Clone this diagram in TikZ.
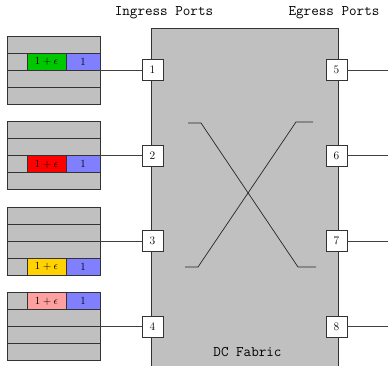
\documentclass[tikz,border=0pt]{standalone}
\usetikzlibrary{calc}

\definecolor{cellgray}{RGB}{192,192,192}
\definecolor{cellblue}{RGB}{128,128,255}
\definecolor{cellgreen}{RGB}{0,200,0}
\definecolor{cellred}{RGB}{255,0,0}
\definecolor{cellyellow}{RGB}{255,210,0}
\definecolor{cellpink}{RGB}{255,160,160}

\tikzset{
  qrow/.style={draw=black!80, fill=cellgray, line width=0.8pt},
  qcell/.style={draw=black!80, line width=0.8pt, minimum height=17pt, inner sep=0pt,
                font=\fontsize{11}{11}\selectfont},
  port/.style={draw=black!80, fill=white, line width=0.7pt, minimum width=21pt,
               minimum height=21pt, inner sep=0pt, font=\fontsize{11.5}{11.5}\selectfont},
  link/.style={draw=black!75, line width=0.8pt},
  crossline/.style={draw=black!85, line width=0.7pt},
  fabricbox/.style={draw=black!80, fill=cellgray, line width=0.8pt},
  heading/.style={font=\ttfamily\fontsize{14.7}{14.7}\selectfont, inner sep=0pt},
}

% queue: #1 name, #2 top y, #3 index of the coloured row, #4 colour
\newcommand\drawqueue[4]{%
  \foreach \r in {0,...,3}{\draw[qrow] (7,{#2+17*\r}) rectangle (100,{#2+17*\r+17});}
  \node[qcell, fill=#4, minimum width=39pt] (#1eps) at (46.5,{#2+17*#3+8.5}) {$1+\epsilon$};
  \node[qcell, fill=cellblue, minimum width=34pt] (#1one) at (83,{#2+17*#3+8.5}) {1};
  \coordinate (#1) at (100,{#2+34});
}

\begin{document}
\begin{tikzpicture}[x=1pt, y=-1pt]
  \useasboundingbox (0,0) rectangle (388,366);
  \clip (0,0) rectangle (388,366);

  % fabric
  \draw[fabricbox] (151.5,372) rectangle (338.5,28);

  % crossbar
  \draw[crossline] (188,123) -- (201,123) -- (298,267) -- (316,267);
  \draw[crossline] (185,267) -- (198,267) -- (296,122) -- (313,122);

  % input queues
  \drawqueue{q1}{36}{1}{cellgreen}
  \drawqueue{q2}{121.5}{2}{cellred}
  \drawqueue{q3}{207}{3}{cellyellow}
  \drawqueue{q4}{292.5}{0}{cellpink}

  % ports
  \node[port] (p1) at (152.5,70) {1};
  \node[port] (p2) at (152.5,155.5) {2};
  \node[port] (p3) at (152.5,241) {3};
  \node[port] (p4) at (152.5,326.5) {4};
  \node[port] (p5) at (336.5,70) {5};
  \node[port] (p6) at (336.5,155.5) {6};
  \node[port] (p7) at (336.5,241) {7};
  \node[port] (p8) at (336.5,326.5) {8};

  \coordinate (o5) at (388,70);
  \coordinate (o6) at (388,155.5);
  \coordinate (o7) at (388,241);
  \coordinate (o8) at (388,326.5);

  % links
  \foreach \i in {1,...,4}{\draw[link] (q\i) -- (p\i);}
  \foreach \i in {5,...,8}{\draw[link] (p\i) -- (o\i);}

  % labels
  \node[heading] (ing) at (164,13) {Ingress Ports};
  \node[heading] (egr) at (334,13) {Egress Ports};
  \node[heading] (dcf) at (247.5,352) {DC Fabric};
\end{tikzpicture}
\end{document}
